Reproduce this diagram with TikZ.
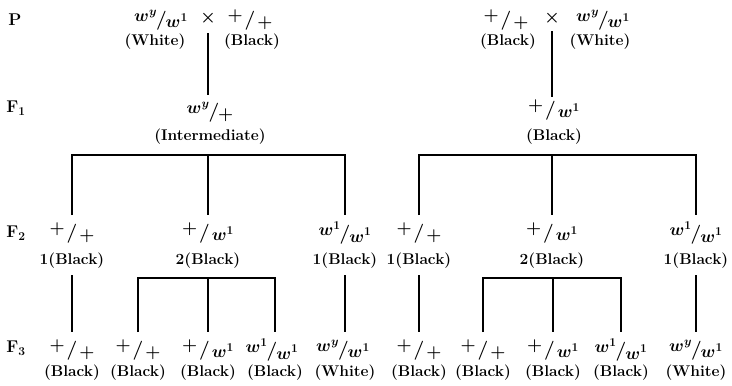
\documentclass[tikz,border=0pt]{standalone}
\usepackage{amsmath}
\newcommand\gslash{{\fontsize{19}{19}\selectfont\bfseries/}}
\newcommand\gen[2]{\raisebox{0.4ex}{$#1$}\kern-1pt\raisebox{-0.15ex}{\gslash}\kern-1pt\raisebox{-0.45ex}{$#2$}}
\newcommand\genp[2]{\raisebox{0.4ex}{$#1$}\kern2pt\raisebox{-0.15ex}{\gslash}\kern2pt\raisebox{-0.45ex}{$#2$}}
\begin{document}
\begin{tikzpicture}[x=1pt,y=-1pt,
  txt/.style={font=\fontsize{15.5}{18}\selectfont\bfseries, inner sep=0pt},
  gen/.style={font=\fontsize{18}{20}\selectfont\boldmath, inner sep=0pt},
  gl/.style={font=\fontsize{17}{19}\selectfont\bfseries\boldmath, inner sep=0pt},
  ln/.style={line width=1.6pt}]
\useasboundingbox (0,0) rectangle (732,386);
% generation labels
\node[gl] (P)  at (15,20)  {P};
\node[gl] (F1) at (16,108) {F$_1$};
\node[gl] (F2) at (16,233) {F$_2$};
\node[gl] (F3) at (16,348) {F$_3$};
% ---------- left cross ----------
\node[gen] (pL1) at (161,20) {\gen{w^y}{w^1}};
\node[gen] (xL)  at (208,18) {$\times$};
\node[gen] (pL2) at (250,20) {\genp{+}{+}};
\node[txt] (pL1l) at (155,42) {(White)};
\node[txt] (pL2l) at (252,42) {(Black)};
\node[gen] (f1L) at (210,112) {\gen{w^y}{+}};
\node[txt] (f1Ll) at (210,137) {(Intermediate)};
\coordinate (bL1) at (208,155);
\node[gen] (f2La) at (72,233)  {\genp{+}{+}};
\node[gen] (f2Lb) at (208,233) {\genp{+}{w^1}};
\node[gen] (f2Lc) at (345,233) {\gen{w^1}{w^1}};
\node[txt] (f2Lal) at (72,261)  {1(Black)};
\node[txt] (f2Lbl) at (208,261) {2(Black)};
\node[txt] (f2Lcl) at (345,261) {1(Black)};
\coordinate (bL2) at (208,278);
\node[gen] (f3La) at (72,350)  {\genp{+}{+}};
\node[gen] (f3Lb) at (138,350) {\genp{+}{+}};
\node[gen] (f3Lc) at (208,350) {\genp{+}{w^1}};
\node[gen] (f3Ld) at (272,350) {\gen{w^1}{w^1}};
\node[gen] (f3Le) at (343,350) {\gen{w^y}{w^1}};
\node[txt] (f3Lal) at (72,373)  {(Black)};
\node[txt] (f3Lbl) at (138,373) {(Black)};
\node[txt] (f3Lcl) at (208,373) {(Black)};
\node[txt] (f3Ldl) at (275,373) {(Black)};
\node[txt] (f3Lel) at (345,373) {(White)};
% ---------- right cross ----------
\node[gen] (pR1) at (506,20) {\genp{+}{+}};
\node[gen] (xR)  at (552,18) {$\times$};
\node[gen] (pR2) at (603,20) {\gen{w^y}{w^1}};
\node[txt] (pR1l) at (508,42) {(Black)};
\node[txt] (pR2l) at (600,42) {(White)};
\node[gen] (f1R) at (554,110) {\genp{+}{w^1}};
\node[txt] (f1Rl) at (554,137) {(Black)};
\coordinate (bR1) at (552,155);
\node[gen] (f2Ra) at (419,233) {\genp{+}{+}};
\node[gen] (f2Rb) at (552,233) {\genp{+}{w^1}};
\node[gen] (f2Rc) at (696,233) {\gen{w^1}{w^1}};
\node[txt] (f2Ral) at (419,261) {1(Black)};
\node[txt] (f2Rbl) at (552,261) {2(Black)};
\node[txt] (f2Rcl) at (696,261) {1(Black)};
\coordinate (bR2) at (553,278);
\node[gen] (f3Ra) at (419,350) {\genp{+}{+}};
\node[gen] (f3Rb) at (483,350) {\genp{+}{+}};
\node[gen] (f3Rc) at (553,350) {\genp{+}{w^1}};
\node[gen] (f3Rd) at (621,350) {\gen{w^1}{w^1}};
\node[gen] (f3Re) at (696,350) {\gen{w^y}{w^1}};
\node[txt] (f3Ral) at (419,373) {(Black)};
\node[txt] (f3Rbl) at (483,373) {(Black)};
\node[txt] (f3Rcl) at (553,373) {(Black)};
\node[txt] (f3Rdl) at (621,373) {(Black)};
\node[txt] (f3Rel) at (696,373) {(White)};
% ---------- connectors ----------
% P -> F1
\draw[ln] ([yshift=-15pt]xL.center) -- ([xshift=-2pt,yshift=17pt]f1L.center);
\draw[ln] ([yshift=-13pt]xR.center) -- ([xshift=-2pt,yshift=13pt]f1R.center);
% F1 -> F2
\draw[ln] ([yshift=18pt]f2La.center) |- (bL1) -| ([yshift=18pt]f2Lc.center);
\draw[ln] (bL1) -- ([yshift=18pt]f2Lb.center);
\draw[ln] ([yshift=18pt]f2Ra.center) |- (bR1) -| ([yshift=18pt]f2Rc.center);
\draw[ln] (bR1) -- ([yshift=18pt]f2Rb.center);
% F2 -> F3
\draw[ln] ([yshift=-14pt]f2Lal.center) -- ([yshift=18pt]f3La.center);
\draw[ln] ([yshift=-14pt]f2Lcl.center) -- ([xshift=2pt,yshift=18pt]f3Le.center);
\draw[ln] ([yshift=-14pt]f2Ral.center) -- ([yshift=18pt]f3Ra.center);
\draw[ln] ([yshift=-14pt]f2Rcl.center) -- ([yshift=18pt]f3Re.center);
\draw[ln] ([yshift=18pt]f3Lb.center) |- (bL2) -| ([xshift=3pt,yshift=18pt]f3Ld.center);
\draw[ln] (bL2) -- ([yshift=18pt]f3Lc.center);
\draw[ln] ([yshift=18pt]f3Rb.center) |- (bR2) -| ([yshift=18pt]f3Rd.center);
\draw[ln] (bR2) -- ([yshift=18pt]f3Rc.center);
\end{tikzpicture}
\end{document}
